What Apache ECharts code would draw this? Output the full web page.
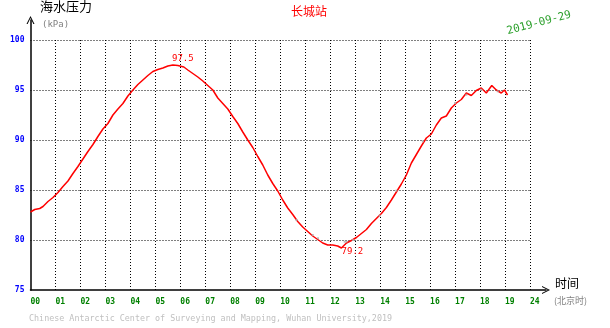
<!DOCTYPE html>
<html>
<head>
<meta charset="utf-8">
<script src="https://cdn.jsdelivr.net/npm/echarts@6/dist/echarts.min.js"></script>
<style>
  html, body { margin: 0; padding: 0; background: #ffffff; }
  #chart { width: 610px; height: 328px; }
</style>
</head>
<body>
<div id="chart"></div>
<script>
// Sea-water pressure record, Great Wall Station, 2019-09-29 (Beijing time)
var hours = [
  0, 0.17, 0.37, 0.5, 0.7, 0.9, 1.1, 1.3, 1.5, 1.7,
  1.9, 2.1, 2.3, 2.5, 2.7, 2.9, 3.1, 3.3, 3.5, 3.7,
  3.9, 4.1, 4.3, 4.5, 4.7, 4.9, 5.1, 5.3, 5.5, 5.7,
  5.9, 6.14, 6.3, 6.5, 6.7, 6.9, 7.1, 7.3, 7.5, 7.7,
  7.9, 8.1, 8.3, 8.5, 8.7, 8.9, 9.1, 9.3, 9.5, 9.7,
  9.9, 10.1, 10.3, 10.5, 10.7, 10.9, 11.1, 11.3, 11.5, 11.7,
  11.9, 12.1, 12.3, 12.45, 12.65, 12.85, 13.05, 13.25, 13.45, 13.65,
  13.85, 14.05, 14.25, 14.45, 14.65, 14.85, 15.05, 15.25, 15.45, 15.65,
  15.85, 16.05, 16.25, 16.45, 16.65, 16.85, 17.05, 17.25, 17.45, 17.65,
  17.85, 18.05, 18.25, 18.47, 18.65, 18.85, 18.98, 19.1
];
var pressure = [
  82.8, 83.05, 83.15, 83.35, 83.85, 84.25, 84.75, 85.35, 85.9, 86.65,
  87.35, 88.1, 88.85, 89.55, 90.35, 91.1, 91.65, 92.5, 93.1, 93.65,
  94.4, 95.0, 95.55, 96.0, 96.45, 96.85, 97.05, 97.2, 97.4, 97.5,
  97.45, 97.3, 97.0, 96.65, 96.3, 95.9, 95.45, 95.0, 94.2, 93.65,
  93.1, 92.35, 91.65, 90.8, 90.0, 89.25, 88.35, 87.5, 86.5, 85.65,
  84.9, 84.0, 83.2, 82.55, 81.85, 81.3, 80.85, 80.4, 80.05, 79.7,
  79.5, 79.5, 79.4, 79.2, 79.7, 79.95, 80.25, 80.65, 81.05, 81.65,
  82.15, 82.65, 83.25, 84.0, 84.8, 85.6, 86.5, 87.7, 88.55, 89.4,
  90.2, 90.6, 91.5, 92.2, 92.4, 93.2, 93.7, 94.05, 94.7, 94.45,
  94.95, 95.2, 94.7, 95.45, 95.0, 94.7, 95.0, 94.5
];
// readings flagged in grey
var flagHours = [10.65, 11.3, 11.51, 12.58, 12.65, 12.91, 13.98, 14.65, 15.71, 17.0, 17.45, 18.05, 18.71];
var flagPressure = [82.0, 80.5, 80.17, 79.83, 79.83, 80.0, 82.43, 84.93, 89.87, 93.7, 94.53, 95.03, 94.87];

var hourLabels = ['00','01','02','03','04','05','06','07','08','09','10',
                  '11','12','13','14','15','16','17','18','19','24'];
var pressureTicks = [75, 80, 85, 90, 95, 100];

var mono = '"DejaVu Sans Mono", "Liberation Mono", monospace';
var cjk = '"Noto Sans CJK SC", "Noto Sans", sans-serif';

function pairs(xs, ys) {
  var out = [];
  for (var i = 0; i < xs.length; i++) out.push([xs[i], ys[i]]);
  return out;
}

var chevron = 'path://M5,0 L10,10 L8.6,10 L5,2.6 L1.4,10 L0,10 Z';
var dotted = { color: '#000000', width: 1, type: [1, 2] };

var chart = echarts.init(document.getElementById('chart'), null, { renderer: 'canvas' });
chart.setOption({
  animation: false,
  backgroundColor: '#ffffff',
  grid: [
    { left: 30.5, right: 80, top: 40, bottom: 38 },
    { left: 30.5, right: 64, top: 20, bottom: 38 }
  ],
  xAxis: [{
    type: 'value', gridIndex: 0,
    min: 0, max: hourLabels.length - 1, interval: 1,
    axisLine: { show: false },
    axisTick: { show: false },
    axisLabel: {
      color: '#008000', fontFamily: mono, fontSize: 8, fontWeight: 'bold',
      align: 'left', margin: 8,
      formatter: function (v) { return hourLabels[Math.round(v)] || ''; }
    },
    splitLine: { show: true, showMinLine: false, lineStyle: dotted }
  }, {
    type: 'value', gridIndex: 1, min: 0, max: 1,
    axisLine: { show: true, symbol: ['none', chevron], symbolSize: [8, 8],
                lineStyle: { color: '#000000', width: 1.5 } },
    axisTick: { show: false }, axisLabel: { show: false }, splitLine: { show: false }
  }],
  yAxis: [{
    type: 'value', gridIndex: 0,
    min: pressureTicks[0], max: pressureTicks[pressureTicks.length - 1], interval: 5,
    axisLine: { show: false },
    axisTick: { show: false },
    axisLabel: { color: '#0000ff', fontFamily: mono, fontSize: 8, fontWeight: 'bold', margin: 6 },
    splitLine: { show: true, showMinLine: false, lineStyle: dotted }
  }, {
    type: 'value', gridIndex: 1, min: 0, max: 1,
    axisLine: { show: true, symbol: ['none', chevron], symbolSize: [8, 8],
                lineStyle: { color: '#000000', width: 1.5 } },
    axisTick: { show: false }, axisLabel: { show: false }, splitLine: { show: false }
  }],
  series: [{
    type: 'line', xAxisIndex: 0, yAxisIndex: 0,
    data: pairs(hours, pressure),
    showSymbol: false,
    lineStyle: { color: '#ff0000', width: 1.5 },
    markPoint: {
      symbol: 'circle', symbolSize: 1,
      itemStyle: { color: 'rgba(0,0,0,0)' },
      label: { show: true, color: '#ff0000', fontFamily: mono, fontSize: 9, formatter: '{c}' },
      data: [
        { type: 'max', label: { offset: [10, -6] } },
        { type: 'min', label: { offset: [11, 4] } }
      ]
    },
    z: 3
  }, {
    type: 'scatter', xAxisIndex: 0, yAxisIndex: 0,
    data: pairs(flagHours, flagPressure),
    symbol: 'rect', symbolSize: 2,
    itemStyle: { color: '#aaaaaa' },
    z: 4
  }],
  graphic: [
    { type: 'text', left: 40, top: 0,
      style: { text: '海水压力', fill: '#000000', font: '13px ' + cjk } },
    { type: 'text', left: 42, top: 20,
      style: { text: '(kPa)', fill: '#808080', font: '9px ' + mono } },
    { type: 'text', left: 291, top: 5,
      style: { text: '长城站', fill: '#ff0000', font: '12px ' + cjk } },
    { type: 'text', x: 539, y: 23, rotation: 0.26,
      style: { text: '2019-09-29', fill: '#2ca02c', font: '11px ' + mono,
               align: 'center', verticalAlign: 'middle' } },
    { type: 'text', left: 555, top: 277,
      style: { text: '时间', fill: '#000000', font: '12px ' + cjk } },
    { type: 'text', left: 554, top: 296,
      style: { text: '(北京时)', fill: '#808080', font: '9px ' + cjk } },
    { type: 'text', left: 29, top: 315,
      style: { text: 'Chinese Antarctic Center of Surveying and Mapping, Wuhan University,2019',
               fill: '#c0c0c0', font: '8.4px ' + mono } }
  ]
});
</script>
</body>
</html>
